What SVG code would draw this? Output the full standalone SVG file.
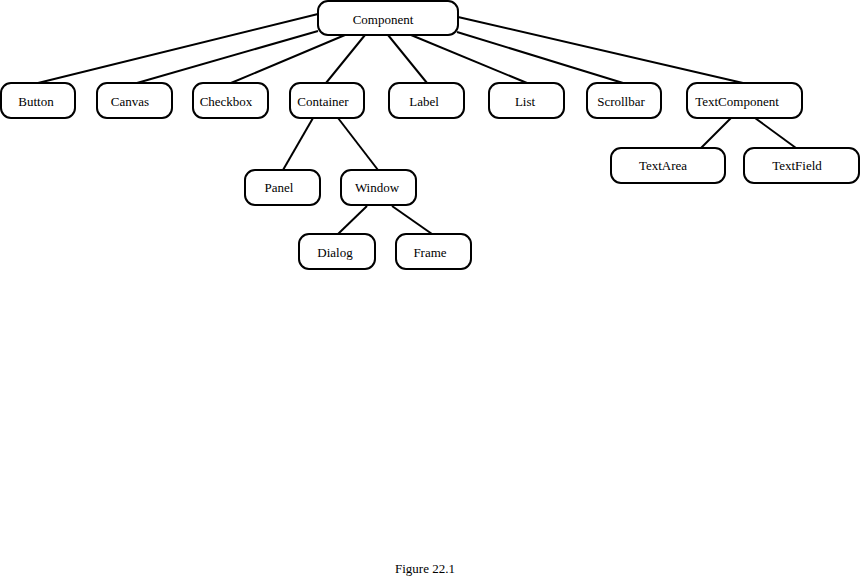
<svg xmlns="http://www.w3.org/2000/svg" width="865" height="576" viewBox="0 0 865 576">
<style>
.n rect{fill:#fff;stroke:#000;stroke-width:2}
text{font-family:"Liberation Serif","Times New Roman",serif;font-size:13px;fill:#000;text-anchor:middle}
#edges line{stroke:#000;stroke-width:2}
</style>
<rect width="865" height="576" fill="#fff"/>
<g id="edges">
<line x1="318" y1="14" x2="38" y2="83"/>
<line x1="318" y1="31" x2="137" y2="83"/>
<line x1="345" y1="35" x2="231" y2="83"/>
<line x1="365" y1="35" x2="326" y2="83"/>
<line x1="388" y1="35" x2="427" y2="83"/>
<line x1="411" y1="35" x2="527" y2="83"/>
<line x1="457" y1="32" x2="623" y2="83"/>
<line x1="458" y1="17" x2="743" y2="83"/>
<line x1="731" y1="118" x2="701" y2="148"/>
<line x1="755" y1="118" x2="796" y2="148"/>
<line x1="313" y1="118" x2="283" y2="170"/>
<line x1="338" y1="118" x2="378" y2="170"/>
<line x1="367" y1="206" x2="338" y2="234"/>
<line x1="392" y1="206" x2="432" y2="234"/>
</g>
<g id="Component" class="n"><rect x="318" y="1" width="140" height="34" rx="10"/><text x="383" y="24">Component</text></g>
<g id="Button" class="n"><rect x="1" y="83" width="74" height="35" rx="10"/><text x="36" y="106">Button</text></g>
<g id="Canvas" class="n"><rect x="97" y="83" width="75" height="35" rx="10"/><text x="130" y="106">Canvas</text></g>
<g id="Checkbox" class="n"><rect x="193" y="83" width="75" height="35" rx="10"/><text x="226" y="106">Checkbox</text></g>
<g id="Container" class="n"><rect x="290" y="83" width="74" height="35" rx="10"/><text x="323" y="106">Container</text></g>
<g id="Label" class="n"><rect x="389" y="83" width="75" height="35" rx="10"/><text x="424" y="106">Label</text></g>
<g id="List" class="n"><rect x="489" y="83" width="75" height="35" rx="10"/><text x="525" y="106">List</text></g>
<g id="Scrollbar" class="n"><rect x="587" y="83" width="74" height="35" rx="10"/><text x="621" y="106">Scrollbar</text></g>
<g id="TextComponent" class="n"><rect x="687" y="83" width="115" height="35" rx="10"/><text x="737" y="106">TextComponent</text></g>
<g id="TextArea" class="n"><rect x="611" y="148" width="114" height="35" rx="10"/><text x="663" y="170">TextArea</text></g>
<g id="TextField" class="n"><rect x="744" y="148" width="115" height="35" rx="10"/><text x="797" y="170">TextField</text></g>
<g id="Panel" class="n"><rect x="245" y="170" width="75" height="35" rx="10"/><text x="279" y="192">Panel</text></g>
<g id="Window" class="n"><rect x="341" y="170" width="75" height="35" rx="10"/><text x="377" y="192">Window</text></g>
<g id="Dialog" class="n"><rect x="299" y="234" width="76" height="35" rx="10"/><text x="335" y="257">Dialog</text></g>
<g id="Frame" class="n"><rect x="396" y="234" width="75" height="35" rx="10"/><text x="430" y="257">Frame</text></g>
<text x="425" y="573">Figure 22.1</text>
</svg>
